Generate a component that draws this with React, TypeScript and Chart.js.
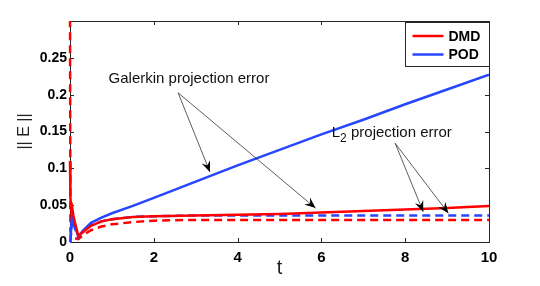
import React, { useEffect, useRef } from "react";
import { Chart, registerables } from "chart.js";

Chart.register(...registerables);

const timeSteps = [0, 0.01, 0.03, 0.05, 0.08, 0.12, 0.2, 0.3, 0.5, 0.75, 1, 1.5, 2, 3, 4, 5, 6, 7, 8, 9, 10];
const dmdGalerkin = [0.11, 0.06, 0.045, 0.048, 0.036, 0.026, 0.008, 0.013, 0.022, 0.028, 0.031, 0.034, 0.035, 0.036, 0.037, 0.038, 0.04, 0.042, 0.044, 0.046, 0.049];
const podGalerkin = [0, 0.001, 0.02, 0.035, 0.03, 0.02, 0.007, 0.015, 0.026, 0.033, 0.039, 0.049, 0.06, 0.082, 0.104, 0.125, 0.146, 0.166, 0.187, 0.207, 0.227];
const dmdL2 = [0.32, 0.015, 0.01, 0.008, 0.006, 0.005, 0.004, 0.009, 0.016, 0.021, 0.024, 0.027, 0.029, 0.03, 0.03, 0.03, 0.03, 0.03, 0.03, 0.03, 0.03];
const podL2 = [0, 0.001, 0.018, 0.03, 0.026, 0.018, 0.007, 0.014, 0.023, 0.028, 0.031, 0.034, 0.035, 0.036, 0.036, 0.036, 0.036, 0.036, 0.036, 0.036, 0.036];

const xTicks = [0, 2, 4, 6, 8, 10];
const yTicks = [0, 0.05, 0.1, 0.15, 0.2, 0.25];
const legendLabels = ["DMD", "POD"];
const galerkinText = "Galerkin projection error";
const l2Text = ["L", "2", " projection error"];
// annotation anchor points in data units [t, value]
const galerkinAnchor = [2.84, 0.222];
const galerkinFrom = [2.58, 0.2025];
const galerkinTips = [[3.34, 0.095], [5.86, 0.046]];
const l2Anchor = [7.68, 0.148];
const l2From = [7.76, 0.134];
const l2Tips = [[8.43, 0.041], [9.03, 0.039]];

const RED = "rgb(255,0,0)";
const BLUE = "rgb(38,70,255)";
const FONT = "'Liberation Sans', Arial, sans-serif";

const pts = (ys: number[]) => timeSteps.map((t, i) => ({ x: t, y: ys[i] }));

function arrow(ctx: CanvasRenderingContext2D, x0: number, y0: number, x1: number, y1: number) {
  ctx.save();
  ctx.strokeStyle = "#333";
  ctx.lineWidth = 0.8;
  ctx.beginPath();
  ctx.moveTo(x0, y0);
  ctx.lineTo(x1, y1);
  ctx.stroke();
  const a = Math.atan2(y1 - y0, x1 - x0);
  const L = 11, W = 4.5, back = 7;
  ctx.translate(x1, y1);
  ctx.rotate(a);
  ctx.fillStyle = "#000";
  ctx.beginPath();
  ctx.moveTo(0, 0);
  ctx.lineTo(-L, -W);
  ctx.lineTo(-back, 0);
  ctx.lineTo(-L, W);
  ctx.closePath();
  ctx.fill();
  ctx.restore();
}

const decor = {
  id: "decor",
  beforeDatasetsDraw(chart: any) {
    const { ctx, chartArea: ca, scales } = chart;
    const xs = scales.x, ys = scales.y;
    ctx.save();
    ctx.strokeStyle = "#262626";
    ctx.lineWidth = 1;
    ctx.strokeRect(Math.round(ca.left) + 0.5, Math.round(ca.top) + 0.5, Math.round(ca.right - ca.left), Math.round(ca.bottom - ca.top));
    ctx.beginPath();
    xTicks.forEach((t) => {
      const x = Math.round(xs.getPixelForValue(t)) + 0.5;
      ctx.moveTo(x, ca.bottom); ctx.lineTo(x, ca.bottom - 4);
      ctx.moveTo(x, ca.top); ctx.lineTo(x, ca.top + 4);
    });
    yTicks.forEach((v) => {
      const y = Math.round(ys.getPixelForValue(v)) + 0.5;
      ctx.moveTo(ca.left, y); ctx.lineTo(ca.left + 4, y);
      ctx.moveTo(ca.right, y); ctx.lineTo(ca.right - 4, y);
    });
    ctx.stroke();
    ctx.restore();
  },
  afterDraw(chart: any) {
    const { ctx, chartArea: ca, scales } = chart;
    const xs = scales.x, ys = scales.y;
    ctx.save();
    // annotations
    ctx.fillStyle = "#111";
    ctx.font = `15px ${FONT}`;
    ctx.textAlign = "center";
    ctx.textBaseline = "middle";
    ctx.fillText(galerkinText, xs.getPixelForValue(galerkinAnchor[0]), ys.getPixelForValue(galerkinAnchor[1]));
    const gx = xs.getPixelForValue(galerkinFrom[0]), gy = ys.getPixelForValue(galerkinFrom[1]);
    galerkinTips.forEach(([t, v]) => arrow(ctx, gx, gy, xs.getPixelForValue(t), ys.getPixelForValue(v)));

    const lx = xs.getPixelForValue(l2Anchor[0]), ly = ys.getPixelForValue(l2Anchor[1]);
    ctx.font = `15px ${FONT}`;
    const wL = ctx.measureText(l2Text[0]).width;
    ctx.font = `12px ${FONT}`;
    const w2 = ctx.measureText(l2Text[1]).width;
    ctx.font = `15px ${FONT}`;
    const wR = ctx.measureText(l2Text[2]).width;
    const sx = lx - (wL + w2 + wR) / 2;
    ctx.textAlign = "left";
    ctx.fillText(l2Text[0], sx, ly);
    ctx.font = `12px ${FONT}`;
    ctx.fillText(l2Text[1], sx + wL, ly + 6);
    ctx.font = `15px ${FONT}`;
    ctx.fillText(l2Text[2], sx + wL + w2, ly);
    const fx = xs.getPixelForValue(l2From[0]), fy = ys.getPixelForValue(l2From[1]);
    l2Tips.forEach(([t, v]) => arrow(ctx, fx, fy, xs.getPixelForValue(t), ys.getPixelForValue(v)));

    // legend
    const lgRight = Math.round(ca.right) + 0.5;
    const lgLeft = lgRight - 84;
    const lgTop = Math.round(ca.top) + 1.5;
    ctx.fillStyle = "#fff";
    ctx.fillRect(lgLeft, lgTop, 84, 44);
    ctx.strokeStyle = "#262626";
    ctx.lineWidth = 1;
    ctx.strokeRect(lgLeft, lgTop, 84, 44);
    const cols = [RED, BLUE];
    legendLabels.forEach((lab, i) => {
      const y = lgTop + 13.5 + i * 18.5;
      ctx.strokeStyle = cols[i];
      ctx.lineWidth = 2.5;
      ctx.beginPath();
      ctx.moveTo(lgLeft + 7, y);
      ctx.lineTo(lgLeft + 38, y);
      ctx.stroke();
      ctx.fillStyle = "#000";
      ctx.font = `bold 14px ${FONT}`;
      ctx.textAlign = "left";
      ctx.textBaseline = "middle";
      ctx.fillText(lab, lgLeft + 43, y + 1);
    });

    // axis titles
    ctx.fillStyle = "#222";
    ctx.font = `20px ${FONT}`;
    ctx.textAlign = "center";
    ctx.textBaseline = "middle";
    ctx.fillText("t", (ca.left + ca.right) / 2, 268);
    ctx.save();
    ctx.translate(25, (ca.top + ca.bottom) / 2);
    ctx.rotate(-Math.PI / 2);
    ctx.font = `16px ${FONT}`;
    ctx.fillText("|| E ||", 0, 0);
    ctx.restore();
    ctx.restore();
  },
};

export default function App() {
  const ref = useRef<HTMLCanvasElement>(null);
  useEffect(() => {
    document.body.style.margin = "0";
    const clip = { left: 2, top: 0, right: 0, bottom: 1 };
    const chart = new Chart(ref.current!, {
      type: "line",
      data: {
        datasets: [
          { label: legendLabels[0], data: pts(dmdGalerkin), borderColor: RED, borderWidth: 2.5, pointRadius: 0, tension: 0, clip },
          { label: legendLabels[1], data: pts(podGalerkin), borderColor: BLUE, borderWidth: 2.5, pointRadius: 0, tension: 0, clip },
          { label: "DMD L2", data: pts(dmdL2), borderColor: RED, borderWidth: 2.5, borderDash: [8, 5], pointRadius: 0, tension: 0, clip },
          { label: "POD L2", data: pts(podL2), borderColor: BLUE, borderWidth: 2.5, borderDash: [8, 5], pointRadius: 0, tension: 0, clip },
        ],
      },
      plugins: [decor],
      options: {
        animation: false,
        responsive: false,
        layout: { padding: { top: 21, right: 51, left: 0, bottom: 0 } },
        plugins: { legend: { display: false }, tooltip: { enabled: false } },
        scales: {
          x: {
            type: "linear",
            min: 0,
            max: 10,
            afterFit: (s: any) => { s.height = 44; },
            afterBuildTicks: (s: any) => { s.ticks = xTicks.map((v) => ({ value: v })); },
            grid: { display: false, drawTicks: false },
            border: { display: false },
            ticks: { color: "#000", padding: 7, font: { family: FONT, size: 15, weight: "bold" }, maxRotation: 0 },
          },
          y: {
            type: "linear",
            min: 0,
            max: 0.3,
            afterFit: (s: any) => { s.width = 70; },
            afterBuildTicks: (s: any) => { s.ticks = yTicks.map((v) => ({ value: v })); },
            grid: { display: false, drawTicks: false },
            border: { display: false },
            ticks: {
              color: "#000",
              padding: 3,
              font: { family: FONT, size: 14, weight: "bold" },
              callback: (v: any) => String(Number(Number(v).toFixed(2))),
            },
          },
        },
      },
    });
    return () => chart.destroy();
  }, []);
  return (
    <div style={{ position: "absolute", left: 0, top: 0, width: 540, height: 286, background: "#fff" }}>
      <canvas ref={ref} width={540} height={286} />
    </div>
  );
}
